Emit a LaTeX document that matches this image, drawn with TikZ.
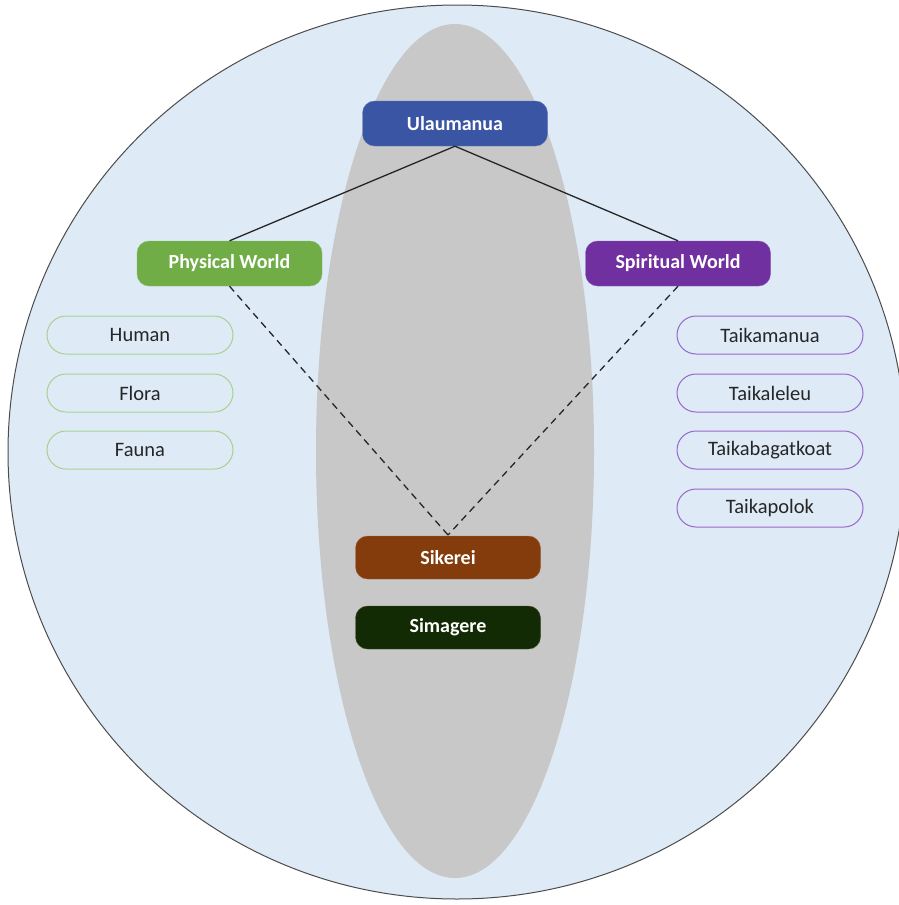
\documentclass[tikz,border=0pt]{standalone}
\usepackage{fontspec}
\setmainfont{Carlito}
\usetikzlibrary{positioning}
\definecolor{bgblue}{HTML}{DEEAF6}
\definecolor{ellgray}{HTML}{C8C8C8}
\definecolor{ublue}{HTML}{3A55A4}
\definecolor{pgreen}{HTML}{70AD47}
\definecolor{spurple}{HTML}{7030A0}
\definecolor{sbrown}{HTML}{843C0C}
\definecolor{sdark}{HTML}{132B04}
\definecolor{lgreen}{HTML}{A9D18E}
\definecolor{lpurple}{HTML}{9966CC}
\definecolor{txt}{HTML}{262626}
\begin{document}
\begin{tikzpicture}[x=1pt,y=-1pt,
  mainbox/.style={rounded corners=12pt, minimum width=185pt, minimum height=45pt,
     text=white, font=\fontsize{20}{24}\selectfont\bfseries, inner sep=0pt},
  pill/.style={rounded corners=19pt, minimum width=186pt, minimum height=38pt,
     fill=bgblue, text=txt, font=\fontsize{20.5}{24}\selectfont, inner sep=0pt, line width=1pt},
  link/.style={line width=1.3pt, black!85}
]
\useasboundingbox (0,0) rectangle (899,905);
\begin{scope}
\clip (0,0) rectangle (899,905);
\fill[bgblue, draw=black!70, line width=1pt] (457,452) ellipse [x radius=449, y radius=447];
\fill[ellgray] (455,451) ellipse [x radius=139, y radius=427];
\end{scope}

\node[mainbox, fill=ublue, draw=ublue!80!white] (ulau) at (455,123.5) {Ulaumanua};
\node[mainbox, fill=pgreen, draw=pgreen!80!white] (phys) at (229.5,263.5) {Physical World};
\node[mainbox, fill=spurple, draw=spurple!80!white] (spir) at (678,263.5) {Spiritual World};
\node[mainbox, fill=sbrown, draw=sbrown!80!white, minimum height=43pt] (sike) at (448,557.5) {Sikerei};
\node[mainbox, fill=sdark, draw=sdark!80!white, minimum height=43pt] (sima) at (448,627.5) {Simagere};

\node[pill, draw=lgreen] (human) at (140,335) {Human};
\node[pill, draw=lgreen] (flora) at (140,393) {Flora};
\node[pill, draw=lgreen] (fauna) at (140,450) {Fauna};

\node[pill, draw=lpurple] (t1) at (770,335) {Taikamanua};
\node[pill, draw=lpurple] (t2) at (770,393) {Taikaleleu};
\node[pill, draw=lpurple] (t3) at (770,450) {Taikabagatkoat};
\node[pill, draw=lpurple] (t4) at (770,508) {Taikapolok};

\draw[link] (ulau.south) -- (phys.north);
\draw[link] (ulau.south) -- (spir.north);
\coordinate (meet) at (448,535);
\draw[link, dashed, dash pattern=on 7pt off 5pt] (phys.south) -- (meet);
\draw[link, dashed, dash pattern=on 7pt off 5pt] (spir.south) -- (meet);
\end{tikzpicture}
\end{document}
